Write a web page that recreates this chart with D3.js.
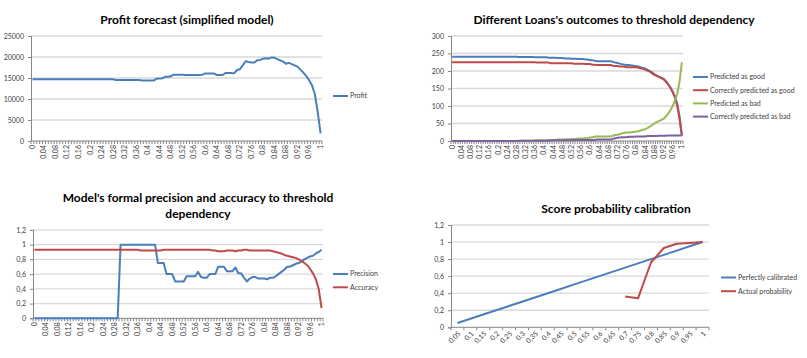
<!DOCTYPE html>
<html><head><meta charset="utf-8">
<script src="https://cdn.jsdelivr.net/npm/d3@7/dist/d3.min.js"></script>
<style>
html,body{margin:0;padding:0;background:#fff;}
svg{display:block;font-family:Lato,"Open Sans",sans-serif;}
</style></head>
<body><svg id="c" width="807" height="358"></svg>
<script>
// ---------- DATA ----------
const thresholds = ["0","0,01","0,02","0,03","0,04","0,05","0,06","0,07","0,08","0,09","0,1","0,11","0,12","0,13","0,14","0,15","0,16","0,17","0,18","0,19","0,2","0,21","0,22","0,23","0,24","0,25","0,26","0,27","0,28","0,29","0,3","0,31","0,32","0,33","0,34","0,35","0,36","0,37","0,38","0,39","0,4","0,41","0,42","0,43","0,44","0,45","0,46","0,47","0,48","0,49","0,5","0,51","0,52","0,53","0,54","0,55","0,56","0,57","0,58","0,59","0,6","0,61","0,62","0,63","0,64","0,65","0,66","0,67","0,68","0,69","0,7","0,71","0,72","0,73","0,74","0,75","0,76","0,77","0,78","0,79","0,8","0,81","0,82","0,83","0,84","0,85","0,86","0,87","0,88","0,89","0,9","0,91","0,92","0,93","0,94","0,95","0,96","0,97","0,98","0,99","1"];
const thresholdTickLabels = ["0","0,04","0,08","0,12","0,16","0,2","0,24","0,28","0,32","0,36","0,4","0,44","0,48","0,52","0,56","0,6","0,64","0,68","0,72","0,76","0,8","0,84","0,88","0,92","0,96","1"];

const profit = [14700,14700,14700,14700,14700,14700,14700,14700,14700,14700,14700,14700,14700,14700,14700,14700,14700,14700,14700,14700,14700,14700,14700,14700,14700,14700,14700,14700,14700,
14500,14500,14500,14500,14500,14500,14500,14500,14500,
14400,14400,14400,14400,14400,
14800,14900,14900,15300,15300,15400,15800,15800,15800,15800,15700,15700,15700,15700,15700,15700,15800,16100,16100,16100,16100,15700,15700,15700,16200,16200,16200,16100,16900,17100,18000,19000,18800,18700,18700,19200,19300,19600,19700,19600,19900,19800,19500,19200,18900,18400,18600,18300,18000,17700,17000,16300,15500,14500,13300,11200,7000,1800];
const profitTicks = [0,5000,10000,15000,20000,25000];

const predictedGood = [241,241,241,241,241,241,241,241,241,241,241,241,241,241,241,241,241,241,241,241,241,241,241,241,241,241,241,241,241,
240,240,240,240,240,240,240,239,239,239,239,239,239,238,238,238,238,237,237,237,236,236,236,235,235,235,234,234,234,233,233,231,231,229,228,228,228,228,228,228,228,226,224,223,221,219,218,217,217,216,215,214,213,211,209,207,204,200,196,191,187,184,181,178,171,163,153,141,126,106,71,16];
const correctGood = [225,225,225,225,225,225,225,225,225,225,225,225,225,225,225,225,225,225,225,225,225,225,225,225,225,225,225,225,225,225,225,225,225,225,225,225,225,
224,224,224,224,224,224,222,222,222,222,222,222,222,222,222,222,221,221,221,221,221,220,220,220,218,218,217,217,217,217,217,217,217,215,214,214,213,213,212,211,211,211,211,211,210,208,206,204,201,198,194,189,186,183,180,177,170,162,152,140,125,100,62,15];
const predictedBad = [0,0,0,0,0,0,0,0,0,0,0,0,0,0,0,0,0,0,0,0,0,0,0,0,0,0,0,0,0,
1,1,1,1,1,1,1,2,2,2,2,2,2,3,3,3,3,4,4,4,5,5,5,6,6,6,7,7,7,8,8,10,10,12,13,13,13,13,13,13,13,15,17,18,20,22,23,24,24,25,26,27,28,30,32,34,37,41,45,50,54,57,60,63,70,78,88,100,115,135,170,225];
const correctBad = [0,0,0,0,0,0,0,0,0,0,0,0,0,0,0,0,0,0,0,0,0,0,0,0,0,0,0,0,0,0,
1,1,1,1,1,1,1,1,1,1,1,1,1,2,2,2,2,2,2,2,2,2,2,3,3,3,3,3,3,3,3,3,3,4,4,4,4,4,4,4,6,8,9,10,11,11,11,12,12,12,13,13,13,13,13,14,14,14,14,14,15,15,15,15,16,16,16,16,16,16,16];
const loanTicks = [0,50,100,150,200,250,300];

const precision = [0,0,0,0,0,0,0,0,0,0,0,0,0,0,0,0,0,0,0,0,0,0,0,0,0,0,0,0,0,0,
1,1,1,1,1,1,1,1,1,1,1,1,1,
0.75,0.75,0.75,0.6,0.6,0.6,0.5,0.5,0.5,0.5,0.57,0.57,0.57,0.57,0.63,0.56,0.55,0.55,0.6,0.6,0.6,0.7,0.7,0.7,0.64,0.64,0.64,0.69,0.61,0.61,0.55,0.5,0.54,0.56,0.56,0.54,0.54,0.54,0.53,0.55,0.55,0.57,0.6,0.63,0.66,0.7,0.7,0.72,0.74,0.75,0.77,0.8,0.82,0.84,0.85,0.88,0.9,0.93];
const accuracy = [0.93,0.93,0.93,0.93,0.93,0.93,0.93,0.93,0.93,0.93,0.93,0.93,0.93,0.93,0.93,0.93,0.93,0.93,0.93,0.93,0.93,0.93,0.93,0.93,0.93,0.93,0.93,0.93,0.93,0.93,0.93,0.93,0.93,0.93,0.93,0.93,0.93,
0.92,0.92,0.92,0.92,0.92,0.92,0.92,0.92,0.93,0.93,0.93,0.93,0.93,0.93,0.93,0.93,0.93,0.93,0.93,0.93,0.93,0.93,0.93,0.93,0.93,0.92,0.92,0.91,0.91,0.91,0.92,0.92,0.92,0.91,0.92,0.92,0.93,0.93,0.92,0.92,0.92,0.92,0.92,0.92,0.92,0.92,0.91,0.9,0.89,0.88,0.86,0.85,0.84,0.83,0.82,0.8,0.78,0.75,0.72,0.67,0.61,0.53,0.4,0.14];
const rateTicks = [0,0.2,0.4,0.6,0.8,1,1.2];
const rateTickLabels = ["0","0,2","0,4","0,6","0,8","1","1,2"];

const scoreBins = ["0,05","0,1","0,15","0,2","0,25","0,3","0,35","0,4","0,45","0,5","0,55","0,6","0,65","0,7","0,75","0,8","0,85","0,9","0,95","1"];
const perfectlyCalibrated = [0.05,0.1,0.15,0.2,0.25,0.3,0.35,0.4,0.45,0.5,0.55,0.6,0.65,0.7,0.75,0.8,0.85,0.9,0.95,1];
const actualProbability = [null,null,null,null,null,null,null,null,null,null,null,null,null,0.36,0.34,0.76,0.93,0.98,0.99,1];

// ---------- STYLE ----------
const C = {blue:"#4a7ebb", red:"#be4b48", green:"#98b954", purple:"#7d60a0",
  grid:"#d9d9d9", axis:"#868686", text:"#404040", title:"#000"};

const svg = d3.select("#c");

function panel(o){
  const g = svg.append("g");
  const x = d3.scaleBand().domain(o.cats.map((d,i)=>i)).range([o.x0,o.x1]);
  const y = d3.scaleLinear().domain(o.yDomain).range([o.yb,o.yt]);
  // gridlines
  g.append("g").selectAll("line").data(o.yTicks.filter(v=>v>0)).join("line")
    .attr("x1",o.x0).attr("x2",o.x1).attr("y1",d=>y(d)).attr("y2",d=>y(d))
    .attr("stroke",C.grid).attr("stroke-width",1.3);
  // y axis
  const ya = d3.axisLeft(y).tickValues(o.yTicks).tickSize(3).tickPadding(4)
    .tickFormat((d,i)=>o.yLabels[i]);
  const yg = g.append("g").attr("transform",`translate(${o.x0},0)`).call(ya);
  yg.select(".domain").attr("stroke",C.axis);
  yg.selectAll(".tick line").attr("stroke",C.axis);
  yg.selectAll("text").attr("fill",C.text).style("font-size","7px").style("font-family","Lato");
  // x axis line + ticks at band boundaries
  g.append("line").attr("x1",o.x0).attr("x2",o.x1).attr("y1",o.yb).attr("y2",o.yb).attr("stroke",C.axis);
  const bounds = o.cats.map((d,i)=>x(i)).concat([o.x1]);
  g.append("g").selectAll("line").data(bounds).join("line")
    .attr("x1",d=>d).attr("x2",d=>d).attr("y1",o.yb).attr("y2",o.yb+3).attr("stroke",C.axis);
  // x labels
  const lab = o.cats.map((d,i)=>({d,i})).filter(e=>o.xLabels.includes(e.d));
  g.append("g").selectAll("text").data(lab).join("text")
    .attr("transform",e=>`translate(${x(e.i)+x.bandwidth()/2+o.lxdx},${o.yb+o.lyoff}) rotate(${o.rot})`)
    .attr("text-anchor","end").attr("dy","0.35em")
    .attr("fill",C.text).style("font-size","7px").text(e=>e.d);
  // series
  const cx = i => x(i)+x.bandwidth()/2;
  o.series.forEach(s=>{
    const line = d3.line().defined(d=>d!=null).x((d,i)=>cx(i)).y(d=>y(d));
    g.append("path").attr("d",line(s.values)).attr("fill","none")
      .attr("stroke",s.color).attr("stroke-width",2).attr("stroke-linejoin","round");
  });
  // legend
  o.series.forEach((s,k)=>{
    const ly = o.legY + k*o.legDy;
    g.append("line").attr("x1",o.legX).attr("x2",o.legX+15).attr("y1",ly).attr("y2",ly)
      .attr("stroke",s.color).attr("stroke-width",2);
    g.append("text").attr("x",o.legX+17).attr("y",ly).attr("dy","0.35em")
      .attr("fill",C.text).style("font-size","7px").text(s.name);
  });
  // title
  o.title.forEach((t,k)=>{
    g.append("text").attr("x",o.tx).attr("y",o.ty+k*15.5).attr("text-anchor","middle")
      .style("font-size","12px").style("font-weight","bold").attr("fill",C.title).text(t);
  });
}

panel({cats:thresholds, xLabels:thresholdTickLabels, x0:31, x1:322, yb:141, yt:36,
  yDomain:[0,25000], yTicks:profitTicks, yLabels:profitTicks.map(String), rot:-90, lxdx:0, lyoff:4,
  series:[{name:"Profit", color:C.blue, values:profit}],
  legX:333, legY:96, legDy:13, title:["Profit forecast (simplified model)"], tx:187, ty:24});

panel({cats:thresholds, xLabels:thresholdTickLabels, x0:451, x1:683, yb:141, yt:36,
  yDomain:[0,300], yTicks:loanTicks, yLabels:loanTicks.map(String), rot:-90, lxdx:0, lyoff:4,
  series:[{name:"Predicted as good", color:C.blue, values:predictedGood},
          {name:"Correctly predicted as good", color:C.red, values:correctGood},
          {name:"Predicted as bad", color:C.green, values:predictedBad},
          {name:"Correctly predicted as bad", color:C.purple, values:correctBad}],
  legX:693, legY:77, legDy:13.2, title:["Different Loans's outcomes to threshold dependency"], tx:614, ty:24});

panel({cats:thresholds, xLabels:thresholdTickLabels, x0:33, x1:323, yb:318.3, yt:229.9,
  yDomain:[0,1.2], yTicks:rateTicks, yLabels:rateTickLabels, rot:-90, lxdx:0, lyoff:4,
  series:[{name:"Precision", color:C.blue, values:precision},
          {name:"Accuracy", color:C.red, values:accuracy}],
  legX:333, legY:274, legDy:13.3, title:["Model's formal precision and accuracy to threshold","dependency"], tx:198, ty:202});

panel({cats:scoreBins, xLabels:scoreBins, x0:451, x1:709, yb:327.3, yt:225,
  yDomain:[0,1.2], yTicks:rateTicks, yLabels:rateTickLabels, rot:-45, lxdx:2, lyoff:5,
  series:[{name:"Perfectly calibrated", color:C.blue, values:perfectlyCalibrated},
          {name:"Actual probability", color:C.red, values:actualProbability}],
  legX:721, legY:277.5, legDy:13.7, title:["Score probability calibration"], tx:616, ty:212.5});
</script></body></html>
